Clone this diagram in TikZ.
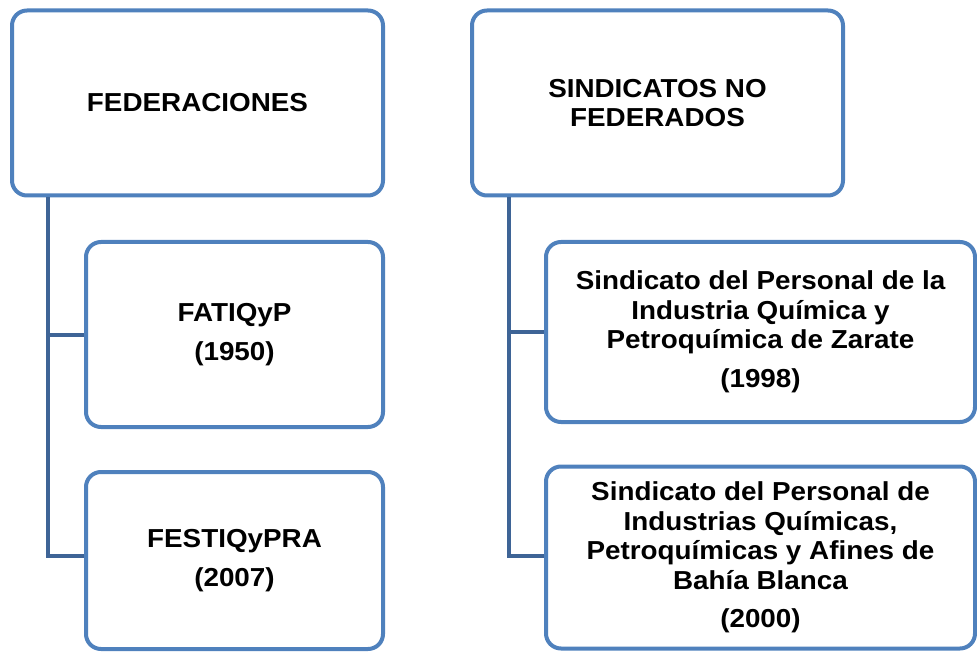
\documentclass[tikz,border=0pt]{standalone}
\usepackage{fontspec}
\newfontfamily\boxfont[FakeStretch=1.07]{Liberation Sans}
\usetikzlibrary{positioning}
\definecolor{boxblue}{RGB}{79,129,189}
\definecolor{linkblue}{RGB}{62,100,150}
\newcommand{\yearline}{\\[9pt]}

\begin{document}
\begin{tikzpicture}[x=1pt, y=-1pt,
    orgbox/.style={draw=boxblue, line width=4pt, fill=white, rounded corners=15pt,
        align=center, inner sep=0pt,
        font=\boxfont\bfseries\fontsize{26}{29.5}\selectfont},
    link/.style={draw=linkblue, line width=4pt},
]
\useasboundingbox (0,0) rectangle (977,652);
% heads
\node[orgbox, minimum width=371pt, minimum height=185pt] (fed) at (197.5,103) {FEDERACIONES};
\node[orgbox, minimum width=371pt, minimum height=185pt] (sind) at (657.5,103) {SINDICATOS NO\\FEDERADOS};
% federaciones
\node[orgbox, minimum width=297pt, minimum height=185pt] (fatiq) at (234.5,334.5) {FATIQyP\yearline(1950)};
\node[orgbox, minimum width=297pt, minimum height=177pt] (festiq) at (234.5,560.5) {FESTIQyPRA\yearline(2007)};
% sindicatos no federados
\node[orgbox, minimum width=429pt, minimum height=180pt] (zarate) at (760.5,332) {Sindicato del Personal de la\\Industria Química y\\Petroquímica de Zarate\yearline(1998)};
\node[orgbox, minimum width=429pt, minimum height=182pt] (bahia) at (760.5,557.5) {Sindicato del Personal de\\Industrias Químicas,\\Petroquímicas y Afines de\\Bahía Blanca\yearline(2000)};

\coordinate (fedroot) at ([xshift=38pt]fed.south west);
\coordinate (sindroot) at ([xshift=39pt]sind.south west);
\draw[link] (fedroot) |- (fatiq.west);
\draw[link] (fedroot) |- ([yshift=5pt]festiq.west);
\draw[link] (sindroot) |- (zarate.west);
\draw[link] (sindroot) |- ([yshift=2pt]bahia.west);
\end{tikzpicture}
\end{document}
